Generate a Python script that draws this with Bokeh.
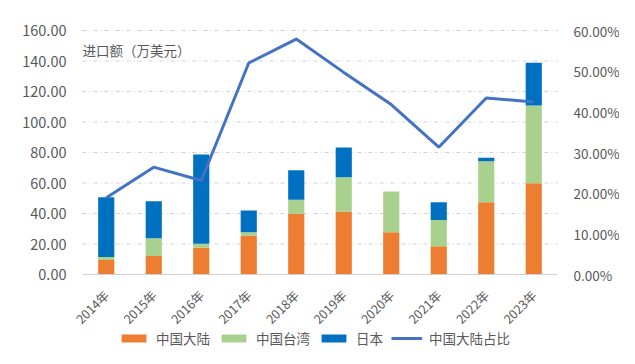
from math import pi
from bokeh.plotting import figure
from bokeh.models import (Range1d, LinearAxis, FixedTicker, PrintfTickFormatter,
                          ColumnDataSource, Legend, LegendItem, Label)
from bokeh.embed import file_html
from bokeh.resources import INLINE

years = ["2014年", "2015年", "2016年", "2017年", "2018年", "2019年", "2020年", "2021年", "2022年", "2023年"]
mainland = [9.5, 12.2, 17.5, 25.6, 39.8, 41.3, 27.7, 18.6, 47.4, 59.9]
taiwan = [2.0, 11.6, 2.6, 2.1, 9.2, 22.5, 26.7, 17.2, 26.9, 50.9]
japan = [39.2, 24.3, 58.6, 14.3, 19.4, 19.5, 0.0, 11.6, 2.2, 28.0]
mainland_share = [18.9, 26.4, 23.1, 52.0, 57.9, 49.7, 41.8, 31.3, 43.4, 42.4]
left_ticks = [0, 20, 40, 60, 80, 100, 120, 140, 160]
right_ticks = [0, 10, 20, 30, 40, 50, 60]

C_ML, C_TW, C_JP, C_LINE = "#ED7D31", "#A9D18E", "#0070C0", "#4472C4"
FONT = "Noto Sans CJK SC"
GRAY = "#595959"

# ---- layout (pixels on the canvas) ----
W, H = 619, 348
PLOT_L, PLOT_R, PLOT_T, ZERO_Y = 82, 557, 30, 274
n = len(years)
xs = list(range(n))
ymax, pmax = left_ticks[-1], right_ticks[-1]
px_per_cat = (PLOT_R - PLOT_L) / n
x_start = -0.5 - PLOT_L / px_per_cat
x_end = n - 0.5 + (W - PLOT_R) / px_per_cat
px_per_unit = (ZERO_Y - PLOT_T) / ymax
y_end = ymax + PLOT_T / px_per_unit
y_start = -(H - ZERO_Y) / px_per_unit
k = pmax / ymax

src = ColumnDataSource(dict(x=xs, mainland=mainland, taiwan=taiwan, japan=japan,
                            share=mainland_share))

p = figure(width=W, height=H, x_range=Range1d(x_start, x_end), y_range=Range1d(y_start, y_end),
           output_backend="svg", toolbar_location=None,
           x_axis_location=None, y_axis_location=None,
           min_border_left=0, min_border_right=0, min_border_top=0, min_border_bottom=0)
p.outline_line_color = None
p.grid.visible = False
p.extra_y_ranges = {"pct": Range1d(y_start * k, y_end * k)}

# dash-dot gridlines across the plot area only
p.segment(x0=-0.5, x1=n - 0.5, y0=left_ticks[1:], y1=left_ticks[1:],
          line_color="#c8d3e0", line_width=1, line_dash="4 3 1 3")

bars = p.vbar_stack(["mainland", "taiwan", "japan"], x="x", width=0.34, source=src,
                    color=[C_ML, C_TW, C_JP], line_color=None)
ln = p.line("x", "share", source=src, y_range_name="pct", line_color=C_LINE, line_width=3)

# axes
la = LinearAxis(fixed_location=-0.5, ticker=FixedTicker(ticks=left_ticks),
                formatter=PrintfTickFormatter(format="%.2f"), bounds=(0, ymax))
p.add_layout(la, "left")
ra = LinearAxis(y_range_name="pct", fixed_location=n - 0.5, ticker=FixedTicker(ticks=right_ticks),
                formatter=PrintfTickFormatter(format="%.2f%%"), bounds=(0, pmax))
p.add_layout(ra, "right")
for ax, fs in ((la, "14.5px"), (ra, "13.5px")):
    ax.axis_line_color = None
    ax.major_tick_line_color = None
    ax.minor_tick_line_color = None
    ax.major_label_text_color = GRAY
    ax.major_label_text_font = FONT
    ax.major_label_text_font_size = fs
    ax.major_label_standoff = 10

xa = LinearAxis(fixed_location=0, ticker=FixedTicker(ticks=xs), bounds=(-0.5, n - 0.5),
                major_label_overrides={i: y for i, y in zip(xs, years)})
xa.axis_line_color = "#d0d0d0"
xa.major_tick_line_color = None
xa.minor_tick_line_color = None
xa.major_label_orientation = pi / 4
xa.major_label_text_color = GRAY
xa.major_label_text_font = FONT
xa.major_label_text_font_size = "12.5px"
xa.major_label_standoff = 12
p.add_layout(xa, "below")

p.add_layout(Label(x=-0.5, y=147, text="进口额（万美元）", text_font=FONT,
                   text_font_size="13.5px", text_color=GRAY, text_baseline="middle"))

legend = Legend(items=[LegendItem(label="中国大陆", renderers=[bars[0]]),
                       LegendItem(label="中国台湾", renderers=[bars[1]]),
                       LegendItem(label="日本", renderers=[bars[2]]),
                       LegendItem(label="中国大陆占比", renderers=[ln])],
                orientation="horizontal", location=(118, 0), border_line_color=None,
                background_fill_alpha=0, label_text_font=FONT, label_text_font_size="13.5px",
                label_text_color=GRAY, glyph_width=31, glyph_height=10, spacing=8,
                label_standoff=7, padding=0, margin=0)
p.add_layout(legend)

open("out.html", "w").write(file_html(p, INLINE))
